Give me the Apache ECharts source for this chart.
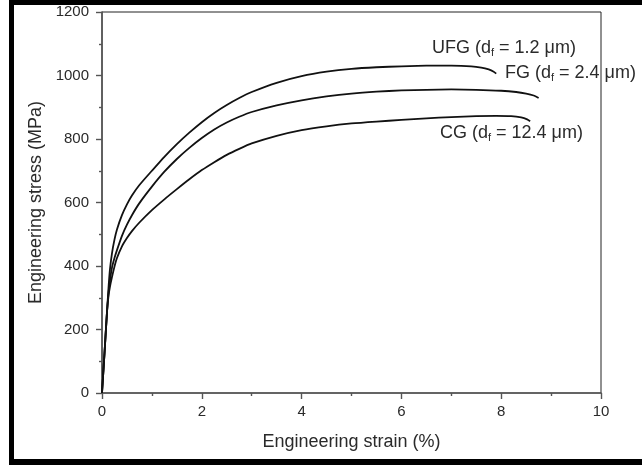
<!DOCTYPE html>
<html>
<head>
<meta charset="utf-8">
<script src="https://cdn.jsdelivr.net/npm/echarts@6/dist/echarts.min.js"></script>
<style>
  html, body { margin: 0; padding: 0; background: #fff; }
  #chart { width: 642px; height: 465px; }
</style>
</head>
<body>
<div id="chart"></div>
<script>
// Engineering stress-strain curves for three grain sizes
var xTicks = [0, 2, 4, 6, 8, 10];
var yTicks = [0, 200, 400, 600, 800, 1000, 1200];

var ufgStrain = [0, 0.05, 0.1, 0.13, 0.16, 0.2, 0.25, 0.3, 0.4, 0.5, 0.6, 0.75, 1.0, 1.25, 1.5, 1.75, 2.0, 2.25, 2.5, 2.75, 3.0, 3.5, 4.0, 4.5, 5.0, 5.5, 6.0, 6.5, 7.0, 7.4, 7.6, 7.75, 7.85, 7.9];
var ufgStress = [0, 125, 255, 330, 390, 440, 483, 515, 560, 594, 622, 655, 700, 744, 784, 820, 853, 882, 907, 929, 948, 977, 998, 1012, 1021, 1026, 1029, 1031, 1031, 1029, 1025, 1019, 1012, 1006];

var fgStrain = [0, 0.05, 0.1, 0.13, 0.16, 0.2, 0.25, 0.3, 0.4, 0.5, 0.6, 0.75, 1.0, 1.25, 1.5, 1.75, 2.0, 2.25, 2.5, 2.75, 3.0, 3.5, 4.0, 4.5, 5.0, 5.5, 6.0, 6.5, 7.0, 7.5, 8.0, 8.3, 8.5, 8.65, 8.75];
var fgStress = [0, 125, 255, 315, 355, 395, 425, 450, 495, 530, 560, 598, 650, 697, 737, 772, 803, 830, 852, 870, 885, 906, 922, 934, 943, 949, 953, 955, 956, 955, 952, 948, 943, 937, 929];

var cgStrain = [0, 0.05, 0.1, 0.13, 0.16, 0.2, 0.25, 0.3, 0.4, 0.5, 0.6, 0.75, 1.0, 1.25, 1.5, 1.75, 2.0, 2.25, 2.5, 2.75, 3.0, 3.5, 4.0, 4.5, 5.0, 5.5, 6.0, 6.5, 7.0, 7.5, 7.9, 8.2, 8.4, 8.52, 8.58];
var cgStress = [0, 125, 255, 305, 335, 365, 398, 425, 462, 488, 510, 537, 576, 610, 642, 673, 702, 727, 750, 769, 786, 810, 828, 840, 849, 855, 860, 865, 869, 872, 873, 872, 868, 862, 856];

function pairs(xs, ys) {
  return xs.map(function (x, i) { return [x, ys[i]]; });
}

var font = '"Liberation Sans", Arial, sans-serif';
var textColor = '#2a2a2a';

var chart = echarts.init(document.getElementById('chart'), null, { renderer: 'canvas' });

function curve(name, xs, ys) {
  return {
    name: name,
    type: 'line',
    data: pairs(xs, ys),
    showSymbol: false,
    smooth: 0.2,
    lineStyle: { color: '#111', width: 1.8, join: 'round' },
    z: 3
  };
}

function label(x, y, main, sub, rest) {
  return {
    type: 'text',
    left: x,
    top: y,
    style: {
      text: main + '{s|' + sub + '}' + rest,
      font: '18px ' + font,
      fill: textColor,
      rich: {
        s: { fontSize: 11, fontFamily: font, fill: textColor, padding: [10, 0, 0, 0] }
      }
    },
    z: 10
  };
}

chart.setOption({
  animation: false,
  backgroundColor: '#fff',
  grid: {
    left: 102, right: 41, top: 12, bottom: 72,
    show: true, borderColor: '#222', borderWidth: 1, backgroundColor: 'transparent'
  },
  xAxis: {
    type: 'value',
    min: 0, max: 10, interval: 2,
    name: 'Engineering strain (%)',
    nameLocation: 'middle',
    nameGap: 40,
    nameTextStyle: { fontFamily: font, fontSize: 18, color: textColor },
    axisLine: { show: true, lineStyle: { color: '#555', width: 1.6 } },
    axisTick: { show: true, inside: false, length: 6, lineStyle: { color: '#555', width: 1.4 } },
    minorTick: { show: true, splitNumber: 2, length: 3, lineStyle: { color: '#555', width: 1.4 } },
    splitLine: { show: false },
    axisLabel: {
      margin: 11, fontFamily: font, fontSize: 15, color: textColor,
      formatter: function (v) { return xTicks.indexOf(v) >= 0 ? String(v) : ''; }
    }
  },
  yAxis: {
    type: 'value',
    min: 0, max: 1200, interval: 200,
    name: 'Engineering stress (MPa)',
    nameLocation: 'middle',
    nameGap: 53,
    nameTextStyle: { fontFamily: font, fontSize: 18, color: textColor },
    axisLine: { show: true, lineStyle: { color: '#555', width: 1.6 } },
    axisTick: { show: true, inside: false, length: 6, lineStyle: { color: '#555', width: 1.4 } },
    minorTick: { show: true, splitNumber: 2, length: 3, lineStyle: { color: '#555', width: 1.4 } },
    splitLine: { show: false },
    axisLabel: {
      margin: 13, fontFamily: font, fontSize: 15, color: textColor,
      formatter: function (v) { return yTicks.indexOf(v) >= 0 ? String(v) : ''; }
    }
  },
  series: [
    curve('UFG', ufgStrain, ufgStress),
    curve('FG', fgStrain, fgStress),
    curve('CG', cgStrain, cgStress)
  ],
  graphic: [
    // outer frame: left, top and bottom sides
    { type: 'rect', shape: { x: 9, y: 0, width: 5, height: 465 }, style: { fill: '#000' }, z: 20 },
    { type: 'rect', shape: { x: 9, y: 0, width: 633, height: 5 }, style: { fill: '#000' }, z: 20 },
    { type: 'rect', shape: { x: 9, y: 459, width: 633, height: 6 }, style: { fill: '#000' }, z: 20 },
    label(432, 39, 'UFG (d', 'f', ' = 1.2 \u03bcm)'),
    label(505, 64, 'FG (d', 'f', ' = 2.4 \u03bcm)'),
    label(440, 124, 'CG (d', 'f', ' = 12.4 \u03bcm)')
  ]
});
</script>
</body>
</html>
